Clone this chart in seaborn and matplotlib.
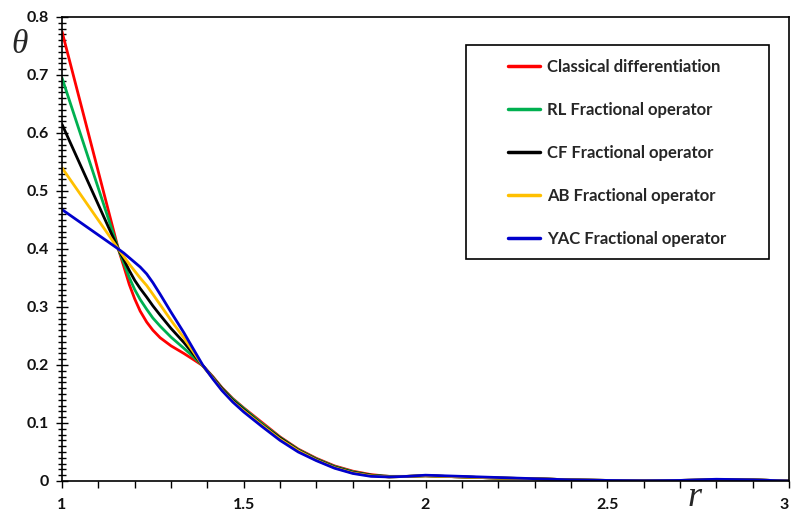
import numpy as np
import pandas as pd
import matplotlib
matplotlib.use("Agg")
import matplotlib.pyplot as plt
import seaborn as sns
from matplotlib.patches import Rectangle
from matplotlib.ticker import MultipleLocator, FixedLocator

sns.set_theme(style="white")
plt.rcParams['font.family'] = ['Lato', 'DejaVu Sans']

r_vals = [1.0, 1.155, 1.17, 1.185, 1.2, 1.215, 1.233, 1.25, 1.27, 1.3, 1.335, 1.36, 1.387,
          1.415, 1.44, 1.47, 1.5, 1.55, 1.6, 1.65, 1.7, 1.75, 1.8, 1.85, 1.9, 1.95, 2.0,
          2.1, 2.2, 2.3, 2.4, 2.5, 2.6, 2.7, 2.8, 2.9, 3.0]

classical = [0.775, 0.400, 0.370, 0.339, 0.314, 0.293, 0.274, 0.260, 0.247, 0.233, 0.220, 0.210, 0.199,
             0.180, 0.161, 0.142, 0.126, 0.101, 0.076, 0.055, 0.039, 0.026, 0.017, 0.011, 0.008, 0.008, 0.009,
             0.007, 0.005, 0.004, 0.002, 0.001, 0.0005, 0.001, 0.002, 0.002, 0.0]
rl_op = [0.695, 0.400, 0.376, 0.351, 0.330, 0.313, 0.296, 0.281, 0.267, 0.248, 0.229, 0.215, 0.199,
         0.179, 0.160, 0.141, 0.125, 0.099, 0.075, 0.054, 0.038, 0.025, 0.016, 0.010, 0.008, 0.008, 0.009,
         0.007, 0.005, 0.004, 0.002, 0.001, 0.0005, 0.001, 0.002, 0.002, 0.0]
cf_op = [0.615, 0.400, 0.382, 0.363, 0.346, 0.332, 0.317, 0.302, 0.286, 0.263, 0.239, 0.220, 0.199,
         0.178, 0.159, 0.139, 0.123, 0.097, 0.074, 0.053, 0.037, 0.024, 0.015, 0.010, 0.007, 0.008, 0.009,
         0.007, 0.005, 0.004, 0.002, 0.001, 0.0005, 0.001, 0.002, 0.002, 0.0]
ab_op = [0.540, 0.400, 0.387, 0.374, 0.362, 0.350, 0.337, 0.322, 0.304, 0.277, 0.247, 0.224, 0.199,
         0.177, 0.157, 0.137, 0.121, 0.096, 0.072, 0.052, 0.036, 0.023, 0.014, 0.009, 0.007, 0.008, 0.009,
         0.007, 0.005, 0.004, 0.002, 0.001, 0.0005, 0.001, 0.002, 0.002, 0.0]
yac_op = [0.468, 0.400, 0.393, 0.385, 0.377, 0.369, 0.357, 0.342, 0.322, 0.291, 0.256, 0.229, 0.200,
          0.176, 0.156, 0.136, 0.119, 0.094, 0.070, 0.050, 0.035, 0.022, 0.013, 0.008, 0.007, 0.008, 0.010,
          0.008, 0.006, 0.004, 0.002, 0.001, 0.0005, 0.001, 0.003, 0.002, 0.0]

labels = ["Classical differentiation", "RL Fractional operator", "CF Fractional operator",
          "AB Fractional operator", "YAC Fractional operator"]
colors = ["#FF0000", "#00B050", "#000000", "#FFC000", "#0000CC"]
series = [classical, rl_op, cf_op, ab_op, yac_op]

xticks = [1, 1.5, 2, 2.5, 3]
xtick_labels = ["1", "1.5", "2", "2.5", "3"]
yticks = [0, 0.1, 0.2, 0.3, 0.4, 0.5, 0.6, 0.7, 0.8]
ytick_labels = ["0", "0.1", "0.2", "0.3", "0.4", "0.5", "0.6", "0.7", "0.8"]

df = pd.concat([pd.DataFrame({"r": r_vals, "theta": s, "series": lab})
                for s, lab in zip(series, labels)], ignore_index=True)

fig = plt.figure(figsize=(7.92, 5.15), dpi=100)
ax = fig.add_axes([62/792, 34/515, 727/792, 464/515])

sns.lineplot(data=df, x="r", y="theta", hue="series", hue_order=labels,
             palette=dict(zip(labels, colors)), estimator=None, sort=False,
             linewidth=2.0, ax=ax, legend=False)
for ln in ax.get_lines():
    ln.set_solid_joinstyle("round")

ax.set_xlim(1, 3)
ax.set_ylim(0, 0.8)
ax.set_xlabel("")
ax.set_ylabel("")
ax.xaxis.set_major_locator(FixedLocator(xticks))
ax.set_xticklabels(xtick_labels)
ax.xaxis.set_minor_locator(MultipleLocator(0.1))
ax.yaxis.set_major_locator(FixedLocator(yticks))
ax.set_yticklabels(ytick_labels)
ax.yaxis.set_minor_locator(MultipleLocator(0.01))

for sp in ax.spines.values():
    sp.set_color("black")
    sp.set_linewidth(1.2)

ax.tick_params(axis="x", which="both", direction="out", length=5, width=1.0,
               color="black", pad=7, bottom=True)
ax.tick_params(axis="y", which="major", direction="inout", length=9, width=1.0,
               color="black", pad=5, left=True)
ax.tick_params(axis="y", which="minor", direction="inout", length=6, width=1.0,
               color="black", left=True)
for lab in ax.get_xticklabels() + ax.get_yticklabels():
    lab.set_fontweight("bold")
    lab.set_fontsize(11.5)
    lab.set_color("#111111")
# keep the last x label inside the figure edge
ax.get_xticklabels()[-1].set_horizontalalignment("right")

fig.text(20/792, 1 - 45/515, "θ", fontsize=24, style="italic",
         family=["Liberation Serif", "DejaVu Serif"], ha="center", va="center")
fig.text(695/792, 1/515, "r", fontsize=26, style="italic",
         family=["Liberation Serif", "DejaVu Serif"], ha="center", va="bottom")

# legend frame
ax.add_patch(Rectangle(((466-62)/727, (481-259)/464), (769-466)/727, (259-45)/464,
                       transform=ax.transAxes, facecolor="white", edgecolor="black",
                       linewidth=1.2, zorder=5))
handles = [plt.Line2D([], [], color=c, linewidth=2.5) for c in colors]
leg = ax.legend(handles, labels, loc="upper left",
                bbox_to_anchor=((508-62)/727, (481-59)/464),
                frameon=False, borderpad=0, borderaxespad=0,
                handlelength=1.9, handletextpad=0.45, labelspacing=1.62,
                prop={"weight": "bold", "size": 12})
leg.set_zorder(6)

fig.savefig("out.png", dpi=100)
